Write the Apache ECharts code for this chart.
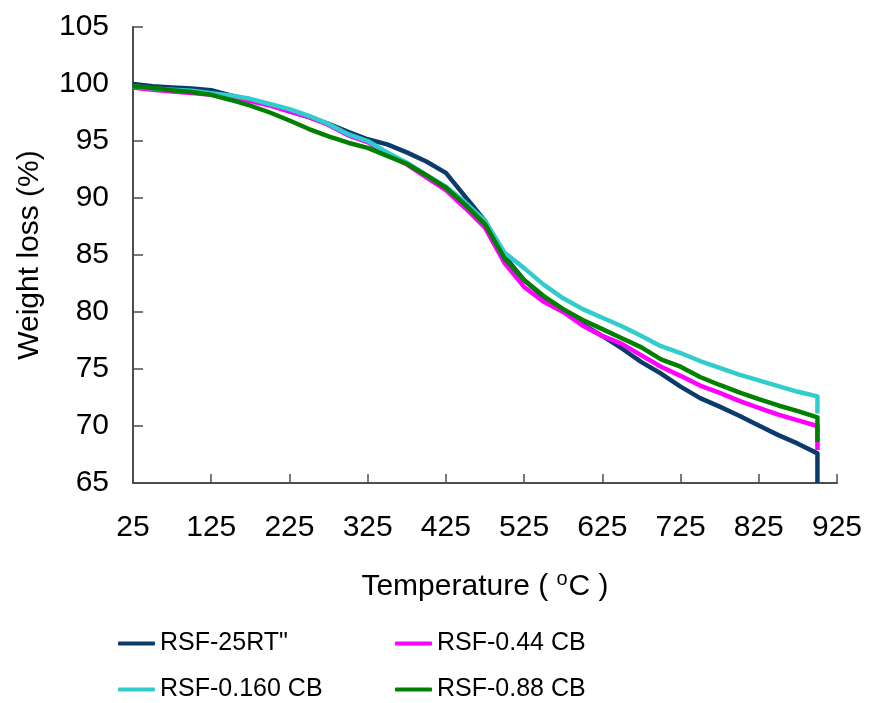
<!DOCTYPE html>
<html>
<head>
<meta charset="utf-8">
<title>TGA curves</title>
<script src="https://cdn.jsdelivr.net/npm/echarts@6/dist/echarts.min.js"></script>
<style>
  html, body { margin: 0; padding: 0; background: #ffffff; }
  #chart { width: 869px; height: 703px; }
</style>
</head>
<body>
<div id="chart"></div>
<script>
// Temperature steps (°C); the repeated 900 closes each run with a vertical drop.
const temperature = [25, 50, 75, 100, 125, 150, 175, 200, 225, 250, 275, 300, 325, 350, 375, 400, 425, 450,
  475, 500, 525, 550, 575, 600, 625, 650, 675, 700, 725, 750, 775, 800, 825, 850, 875, 900, 900];

// Remaining weight (%) of each sample
const rsf25RT = [100.0, 99.8, 99.7, 99.6, 99.45, 99.0, 98.6, 98.2, 97.6, 97.1, 96.5, 95.8, 95.15, 94.7, 94.0, 93.2, 92.2, 90.1,
  88.0, 84.9, 82.8, 81.3, 80.2, 78.9, 77.9, 76.8, 75.6, 74.6, 73.45, 72.45, 71.7, 70.9, 70.05, 69.2, 68.45, 67.6, 65.0];
const rsf044CB = [99.7, 99.5, 99.35, 99.2, 99.05, 98.85, 98.5, 98.1, 97.6, 97.1, 96.4, 95.5, 94.9, 93.85, 92.95, 91.8, 90.7, 89.1,
  87.4, 84.3, 82.2, 80.9, 80.0, 78.8, 77.9, 77.2, 76.2, 75.2, 74.4, 73.55, 72.9, 72.2, 71.6, 71.0, 70.5, 70.0, 67.9];
const rsf0160CB = [99.8, 99.6, 99.5, 99.4, 99.2, 99.0, 98.7, 98.25, 97.8, 97.2, 96.5, 95.6, 95.0, 94.0, 93.1, 92.0, 91.0, 89.6,
  88.0, 85.2, 83.85, 82.4, 81.2, 80.25, 79.5, 78.75, 77.9, 77.0, 76.4, 75.7, 75.1, 74.5, 74.0, 73.5, 73.0, 72.6, 71.1];
const rsf088CB = [99.8, 99.65, 99.45, 99.3, 99.05, 98.6, 98.1, 97.5, 96.8, 96.05, 95.4, 94.85, 94.4, 93.7, 93.0, 92.0, 90.9, 89.4,
  87.7, 84.7, 82.8, 81.4, 80.25, 79.3, 78.5, 77.7, 76.9, 75.85, 75.2, 74.3, 73.6, 72.95, 72.35, 71.8, 71.3, 70.75, 68.6];

// Axis tick labels
const xTicks = [25, 125, 225, 325, 425, 525, 625, 725, 825, 925];
const yTicks = [65, 70, 75, 80, 85, 90, 95, 100, 105];

const seriesNames = ['RSF-25RT"', 'RSF-0.44 CB', 'RSF-0.160 CB', 'RSF-0.88 CB'];
const seriesColors = ['#0b3a6b', '#ff00ff', '#33cccc', '#008000'];
const seriesValues = [rsf25RT, rsf044CB, rsf0160CB, rsf088CB];

const FONT = "'Liberation Sans', Arial, sans-serif";
const AXIS_COLOR = '#4d4d4d';

const chart = echarts.init(document.getElementById('chart'), null, { renderer: 'canvas' });

const series = seriesNames.map((name, i) => ({
  name: name,
  type: 'line',
  showSymbol: false,
  symbol: 'none',
  smooth: false,
  animation: false,
  clip: true,
  lineStyle: { color: seriesColors[i], width: 4.5, join: 'round', cap: 'butt' },
  itemStyle: { color: seriesColors[i] },
  data: temperature.map((t, k) => [t, seriesValues[i][k]])
}));

const legendText = { fontFamily: FONT, fontSize: 25, color: '#000' };

// Two legend columns, two rows each
const legendColumn = (left, names) => ({
  orient: 'vertical', left: left, top: 631, height: 90, padding: 0, itemGap: 21,
  itemWidth: 37, itemHeight: 4, icon: 'roundRect',
  data: names, textStyle: legendText, selectedMode: false
});

chart.setOption({
  backgroundColor: '#ffffff',
  animation: false,
  grid: { left: 133, right: 32, top: 27, bottom: 220, containLabel: false },
  xAxis: {
    type: 'value',
    min: 25,
    max: 925,
    interval: 100,
    name: 'Temperature ( {sup|o}C )',
    nameLocation: 'middle',
    nameGap: 86,
    nameTextStyle: {
      fontFamily: FONT, fontSize: 30, color: '#000',
      rich: { sup: { fontFamily: FONT, fontSize: 20, color: '#000', padding: [0, 1, 16, 0] } }
    },
    axisLine: { show: true, onZero: false, lineStyle: { color: AXIS_COLOR, width: 2 } },
    axisTick: { show: true, inside: true, length: 9, customValues: xTicks, lineStyle: { color: AXIS_COLOR, width: 1.5 } },
    axisLabel: { customValues: xTicks, fontFamily: FONT, fontSize: 30, color: '#000', margin: 30 },
    splitLine: { show: false }
  },
  yAxis: {
    type: 'value',
    min: 65,
    max: 105,
    interval: 5,
    name: 'Weight loss (%)',
    nameLocation: 'middle',
    nameGap: 88,
    nameRotate: 90,
    nameTextStyle: { fontFamily: FONT, fontSize: 30, color: '#000' },
    axisLine: { show: true, onZero: false, lineStyle: { color: AXIS_COLOR, width: 2 } },
    axisTick: { show: true, inside: true, length: 10, customValues: yTicks, lineStyle: { color: AXIS_COLOR, width: 1.5 } },
    axisLabel: { customValues: yTicks, fontFamily: FONT, fontSize: 30, color: '#000', margin: 24 },
    splitLine: { show: false }
  },
  legend: [
    legendColumn(118, [seriesNames[0], seriesNames[2]]),
    legendColumn(395, [seriesNames[1], seriesNames[3]])
  ],
  series: series
});
</script>
</body>
</html>
